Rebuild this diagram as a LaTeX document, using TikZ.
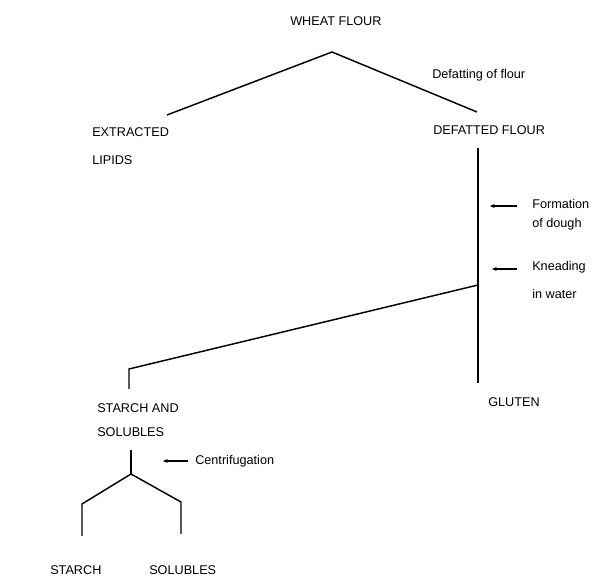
\documentclass[tikz,border=0pt]{standalone}
\usepackage{fontspec}
\setmainfont{Liberation Sans}
\usetikzlibrary{arrows.meta}
\begin{document}
\begin{tikzpicture}[x=0.75pt,y=-0.75pt,
  lbl/.style={anchor=west,inner sep=0pt,font=\fontsize{9.5}{11}\selectfont},
  ln/.style={line width=1.1pt},
  note/.style={-{Stealth[length=3.5pt,width=3pt]},line width=0.8pt}]
\useasboundingbox (0,0) rectangle (600,580);
% labels
\node[lbl] (wf)  at (290,21)  {WHEAT FLOUR};
\node[lbl] (def) at (432,75)  {Defatting of flour};
\node[lbl] (ext) at (92,132)  {EXTRACTED};
\node[lbl] (lip) at (92,160)  {LIPIDS};
\node[lbl] (dfl) at (433,130) {DEFATTED FLOUR};
\node[lbl] (frm) at (532,204) {Formation};
\node[lbl] (dgh) at (532,224) {of dough};
\node[lbl] (knd) at (532,267) {Kneading};
\node[lbl] (wat) at (532,294) {in water};
\node[lbl] (glu) at (488,402) {GLUTEN};
\node[lbl] (sa)  at (97,408)  {STARCH AND};
\node[lbl] (sol) at (97,432)  {SOLUBLES};
\node[lbl] (cen) at (195,461) {Centrifugation};
\node[lbl] (st)  at (50,570)  {STARCH};
\node[lbl] (so)  at (149,570) {SOLUBLES};
% tree points
\coordinate (apex) at (332,52);
\coordinate (lend) at (167,115);
\coordinate (rend) at (477,112);
\coordinate (vtop) at (478,148);
\coordinate (br)   at (478,285);
\coordinate (vbot) at (478,383);
\coordinate (sk)   at (129,369);
\coordinate (skb)  at (129,389);
\coordinate (ct)   at (131,450);
\coordinate (cy)   at (131,474);
\coordinate (yl)   at (82,504);
\coordinate (ylb)  at (82,536);
\coordinate (yr)   at (181,502);
\coordinate (yrb)  at (181,534);
% arrow points
\coordinate (fa1) at (517,206); \coordinate (fa2) at (490,206);
\coordinate (ka1) at (517,269); \coordinate (ka2) at (492,269);
\coordinate (ca1) at (188,461); \coordinate (ca2) at (163,461);
% lines
\draw[ln] (lend) -- (apex) -- (rend);
\draw[ln] (vtop) -- (vbot);
\draw[ln] (br) -- (sk) -- (skb);
\draw[ln] (ct) -- (cy);
\draw[ln] (ylb) -- (yl) -- (cy) -- (yr) -- (yrb);
\draw[note] (fa1) -- (fa2);
\draw[note] (ka1) -- (ka2);
\draw[note] (ca1) -- (ca2);
\end{tikzpicture}
\end{document}
